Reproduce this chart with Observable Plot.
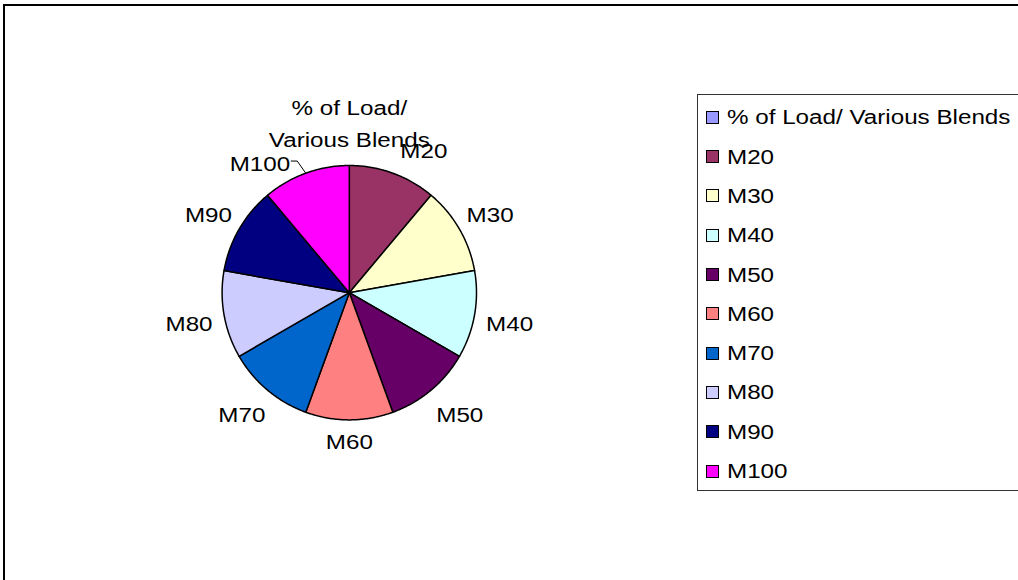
<!DOCTYPE html>
<html>
<head>
<meta charset="utf-8">
<script src="https://cdn.jsdelivr.net/npm/d3@7"></script>
<script src="https://cdn.jsdelivr.net/npm/@observablehq/plot@0.6"></script>
<style>
  body { margin: 0; background: #fff; }
  #wrap { position: relative; width: 1018px; height: 580px; overflow: hidden; font-family: "Liberation Sans", Arial, sans-serif; background:#fff; }
  #chart { position: absolute; left: 0; top: 0; }
  #frame { position: absolute; left: 3px; top: 4px; width: 1100px; height: 700px; border: 2px solid #000; box-sizing: border-box; pointer-events: none; }
  #legend { position: absolute; left: 697px; top: 94px; width: 400px; height: 397px; border: 1.5px solid #333; box-sizing: border-box; background: #fff; }
  .row { position: absolute; left: 0; height: 20px; line-height: 20px; font-size: 20px; white-space: nowrap; color: #000; }
  .sw { position: absolute; left: 8px; top: 3.5px; width: 13px; height: 13px; border: 1.5px solid #000; box-sizing: border-box; }
  .tx { position: absolute; left: 29px; top: 0; transform: scaleX(1.21); transform-origin: left center; }
</style>
</head>
<body>
<div id="wrap">
  <div id="chart"></div>
  <div id="frame"></div>
  <div id="legend"></div>
</div>
<script>
// ---- data ----
const categories = ["% of Load/ Various Blends", "M20", "M30", "M40", "M50", "M60", "M70", "M80", "M90", "M100"];
const values = [0, 100, 100, 100, 100, 100, 100, 100, 100, 100];
const colors = ["#9999FF", "#993366", "#FFFFCC", "#CCFFFF", "#660066", "#FF8080", "#0066CC", "#CCCCFF", "#000080", "#FF00FF"];

// ---- layout ----
const W = 1018, H = 580;
const cx = 348.8, cy = 292.2, R = 127.2;
const FS = 20, SX = 1.21, LH = 1.58, GAP = 11;
const FONT = "Liberation Sans, Arial, sans-serif";
// label displacement (Excel moved these to avoid overlapping neighbours)
const nudge = { "% of Load/ Various Blends": [0, -10], "M20": [22, 0], "M50": [8, -3], "M70": [-5, -3], "M100": [-36, 15] };

const rows = categories.map((c, i) => ({ category: c, value: values[i], color: colors[i] }));
const arcs = d3.pie().sort(null).value(d => d.value)(rows);

// slice polygons in unit-circle coordinates (y up)
const slicePts = [];
arcs.forEach(a => {
  if (a.endAngle - a.startAngle <= 0) return;
  slicePts.push({ category: a.data.category, x: 0, y: 0 });
  const n = 60;
  for (let k = 0; k <= n; k++) {
    const t = a.startAngle + (a.endAngle - a.startAngle) * k / n;
    slicePts.push({ category: a.data.category, x: Math.sin(t), y: Math.cos(t) });
  }
});

// label placement
const ctx = document.createElement("canvas").getContext("2d");
ctx.font = `${FS}px "Liberation Sans"`;
const labels = [];
const leaders = [];
arcs.forEach(a => {
  const mid = (a.startAngle + a.endAngle) / 2;
  const text = a.data.category.replace("/ ", "/\n");
  const lines = text.split("\n");
  const w = d3.max(lines, l => ctx.measureText(l).width) * SX;
  const hw = w / 2, hh = (lines.length - 1) * LH * FS / 2 + 8;
  const s = Math.sin(mid), c = Math.cos(mid);
  const d = R + GAP + hw * Math.abs(s) + hh * Math.abs(c);
  let px = s * d, py = -c * d;
  const nd = nudge[a.data.category];
  if (nd) { px += nd[0]; py += nd[1]; }
  labels.push({ text, x: px / R, y: -py / R });
  if (a.data.category === "M100") {
    const ex = px + hw;
    leaders.push({ x: s, y: c });
    leaders.push({ x: (ex + 7) / R, y: -py / R });
    leaders.push({ x: (ex + 1) / R, y: -py / R });
  }
});

const plot = Plot.plot({
  width: W, height: H,
  margin: 0,
  x: { domain: [-cx / R, (W - cx) / R], range: [0, W], axis: null },
  y: { domain: [-(H - cy) / R, cy / R], range: [H, 0], axis: null },
  color: { type: "ordinal", domain: categories, range: colors },
  style: { background: "transparent", fontFamily: FONT },
  marks: [
    Plot.line(slicePts, { x: "x", y: "y", z: "category", fill: "category", stroke: "#000", strokeWidth: 1.5, strokeLinejoin: "round", curve: "linear-closed" }),
    Plot.line(leaders, { x: "x", y: "y", stroke: "#000", strokeWidth: 1 }),
    Plot.text(labels, { x: "x", y: "y", text: "text", fontSize: FS, fill: "#000", textAnchor: "middle", lineAnchor: "middle", lineHeight: LH, fontFamily: FONT })
  ]
});
// horizontally stretched text, as in the source rendering
plot.querySelectorAll('g[aria-label="text"] text').forEach(t => {
  const tr = t.getAttribute("transform") || "";
  t.setAttribute("transform", tr + ` scale(${SX},1)`);
});
document.getElementById("chart").appendChild(plot);

// legend
const leg = document.getElementById("legend");
const row0 = 116.3, step = 39.3;
categories.forEach((c, i) => {
  const r = document.createElement("div");
  r.className = "row";
  r.style.top = (row0 + step * i - 10 - 94) + "px";
  const sw = document.createElement("span");
  sw.className = "sw";
  sw.style.background = colors[i];
  const tx = document.createElement("span");
  tx.className = "tx";
  tx.textContent = c;
  r.appendChild(sw); r.appendChild(tx);
  leg.appendChild(r);
});
</script>
</body>
</html>
